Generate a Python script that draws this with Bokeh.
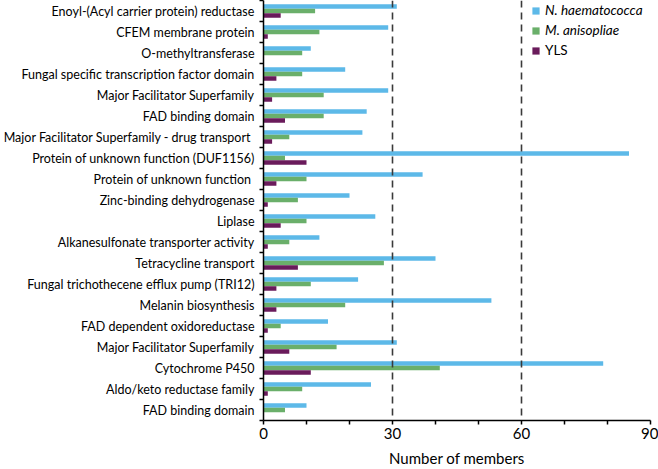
import numpy as np
from bokeh.plotting import figure
from bokeh.models import (ColumnDataSource, FixedTicker, Span, Legend, LegendItem)
from bokeh.transform import dodge
from bokeh.embed import file_html
from bokeh.resources import INLINE

categories = [
    "Enoyl-(Acyl carrier protein) reductase",
    "CFEM membrane protein",
    "O-methyltransferase",
    "Fungal specific transcription factor domain",
    "Major Facilitator Superfamily",
    "FAD binding domain",
    "Major Facilitator Superfamily  - drug transport",
    "Protein of unknown function (DUF1156)",
    "Protein of unknown function ",
    "Zinc-binding dehydrogenase",
    "Liplase",
    "Alkanesulfonate transporter activity",
    "Tetracycline transport",
    "Fungal trichothecene efflux pump (TRI12)",
    "Melanin biosynthesis",
    "FAD dependent oxidoreductase",
    "Major Facilitator Superfamily",
    "Cytochrome P450",
    "Aldo/keto reductase family",
    "FAD binding domain",
]
n_haematococca = [31, 29, 11, 19, 29, 24, 23, 85, 37, 20, 26, 13, 40, 22, 53, 15, 31, 79, 25, 10]
m_anisopliae = [12, 13, 9, 9, 14, 14, 6, 5, 10, 8, 10, 6, 28, 11, 19, 4, 17, 41, 9, 5]
yls = [4, 1, 0, 3, 2, 5, 2, 10, 3, 1, 4, 1, 8, 3, 3, 1, 6, 11, 1, 0]
series_names = ["N. haematococca", "M. anisopliae", "YLS"]
colors = ["#5DB9E8", "#6AAF6A", "#6A1B5B"]
x_ticks = [0, 30, 60, 90]
x_minor = [10, 20, 40, 50, 70, 80]
grid_lines = [30, 60]

n = len(categories)
pos = list(range(n, 0, -1))  # top category first
src = ColumnDataSource(dict(y=pos, a=n_haematococca, b=m_anisopliae, c=yls))

FONT = "Lato"
p = figure(width=658, height=469, output_backend="svg", toolbar_location=None,
           x_range=(0, 90), y_range=(0.5, n + 0.5),
           min_border_left=260, min_border_right=8, min_border_top=0, min_border_bottom=45)
p.outline_line_color = None
p.xgrid.visible = False
p.ygrid.visible = False

bh = 0.215
r1 = p.hbar(y=dodge("y", bh, range=p.y_range), right="a", left=0, height=bh, source=src,
            fill_color=colors[0], line_color=None)
r2 = p.hbar(y=dodge("y", 0, range=p.y_range), right="b", left=0, height=bh, source=src,
            fill_color=colors[1], line_color=None)
r3 = p.hbar(y=dodge("y", -bh, range=p.y_range), right="c", left=0, height=bh, source=src,
            fill_color=colors[2], line_color=None)

for g in grid_lines:
    p.add_layout(Span(location=g, dimension="height", line_color="#3a3a3a",
                      line_width=1.6, line_dash="7 5"))

# x axis
p.xaxis.ticker = FixedTicker(ticks=x_ticks, minor_ticks=x_minor)
p.xaxis.axis_line_color = "black"
p.xaxis.axis_line_width = 1.5
p.xaxis.major_tick_line_color = "black"
p.xaxis.minor_tick_line_color = "black"
p.xaxis.major_tick_line_width = 1.5
p.xaxis.minor_tick_line_width = 1.5
p.xaxis.major_tick_out = 4
p.xaxis.major_tick_in = 0
p.xaxis.minor_tick_out = 4
p.xaxis.minor_tick_in = 0
p.xaxis.major_label_text_font = FONT
p.xaxis.major_label_text_font_size = "15px"
p.xaxis.major_label_text_color = "black"
p.xaxis.major_label_standoff = 3
p.xaxis.axis_label = "Number of members"
p.xaxis.axis_label_text_font = FONT
p.xaxis.axis_label_text_font_size = "15px"
p.xaxis.axis_label_text_font_style = "normal"
p.xaxis.axis_label_text_color = "black"
p.xaxis.axis_label_standoff = 7

# y axis: labels at centers, ticks at boundaries
p.yaxis.ticker = FixedTicker(ticks=pos, minor_ticks=[k + 0.5 for k in range(0, n + 1)])
p.yaxis.major_label_overrides = {float(k): c for k, c in zip(pos, categories)}
p.yaxis.major_tick_out = 0
p.yaxis.major_tick_in = 0
p.yaxis.minor_tick_out = 4
p.yaxis.minor_tick_in = 0
p.yaxis.minor_tick_line_color = "black"
p.yaxis.minor_tick_line_width = 1.5
p.yaxis.axis_line_color = "black"
p.yaxis.axis_line_width = 1.5
p.yaxis.major_label_text_font = FONT
p.yaxis.major_label_text_font_size = "12.5px"
p.yaxis.major_label_text_color = "black"
p.yaxis.major_label_standoff = 5

leg1 = Legend(items=[LegendItem(label=series_names[0], renderers=[r1]),
                     LegendItem(label=series_names[1], renderers=[r2])],
              location=(268, 380))
leg2 = Legend(items=[LegendItem(label=series_names[2], renderers=[r3])],
              location=(268, 360))
for lg, style in ((leg1, "italic"), (leg2, "normal")):
    lg.label_text_font = FONT
    lg.label_text_font_size = "13.5px"
    lg.label_text_font_style = style
    lg.label_text_color = "black"
    lg.glyph_width = 9
    lg.glyph_height = 9
    lg.label_height = 20
    lg.spacing = 0
    lg.padding = 0
    lg.margin = 0
    lg.label_standoff = 5
    lg.border_line_color = None
    lg.background_fill_alpha = 0
    p.add_layout(lg, "center")

open("out.html", "w").write(file_html(p, INLINE))
